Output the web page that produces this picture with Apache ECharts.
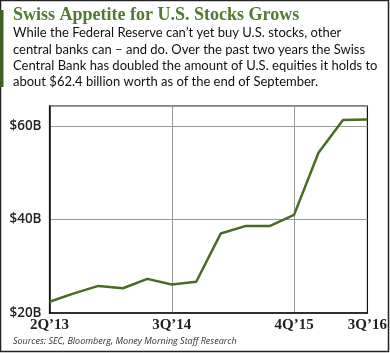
<!DOCTYPE html>
<html>
<head>
<meta charset="utf-8">
<script src="https://cdn.jsdelivr.net/npm/echarts@6/dist/echarts.min.js"></script>
<style>
  html, body { margin: 0; padding: 0; background: #fff; }
  #main { width: 390px; height: 353px; }
</style>
</head>
<body>
<div id="main"></div>
<script>
// quarters, 2Q'13 .. 3Q'16
const quarters = ['2Q’13', '3Q’13', '4Q’13', '1Q’14', '2Q’14', '3Q’14', '4Q’14',
  '1Q’15', '2Q’15', '3Q’15', '4Q’15', '1Q’16', '2Q’16', '3Q’16'];
// US equity holdings, $ billions
const holdings = [22.4, 24.2, 25.8, 25.3, 27.3, 26.1, 26.7, 37.0, 38.6, 38.6, 41.0, 54.3, 61.3, 61.4];
const shownQuarters = [0, 5, 10, 13];
const yTicks = [20, 40, 60];

const titleText = 'Swiss Appetite for U.S. Stocks Grows';
const bodyLines = [
  'While the Federal Reserve can’t yet buy U.S. stocks, other',
  'central banks can – and do. Over the past two years the Swiss',
  'Central Bank has doubled the amount of U.S. equities it holds to',
  'about $62.4 billion worth as of the end of September.'
];
const sourceText = 'Sources: SEC, Bloomberg, Money Morning Staff Research';

const green = '#4a6b26';
const chart = echarts.init(document.getElementById('main'));

const option = {
  animation: false,
  graphic: [
    { type: 'rect', shape: { x: 0.5, y: 0.5, width: 388, height: 351 },
      style: { fill: 'none', stroke: '#222', lineWidth: 1.5 } },
    { type: 'rect', shape: { x: 0, y: 10, width: 3.5, height: 77 }, style: { fill: '#3f5f25' } },
    { type: 'text', left: 13, top: 6,
      style: { text: titleText, fill: '#4f7a30', font: 'bold 18px "Liberation Serif"' } },
    { type: 'text', left: 13, top: 25,
      style: { text: bodyLines.join('\n'), fill: '#111', font: '13px Lato', lineHeight: 16.3 } },
    { type: 'text', left: 13, top: 337,
      style: { text: sourceText, fill: '#333', font: 'italic 9px "Open Sans"' } }
  ],
  grid: {
    left: 49.5, right: 17, top: 106, bottom: 40,
    show: true, borderColor: '#111', borderWidth: 1.2
  },
  xAxis: {
    type: 'category',
    data: quarters,
    boundaryGap: false,
    axisLine: { lineStyle: { color: '#111', width: 1.5 } },
    axisTick: { show: false },
    axisLabel: {
      interval: (i) => shownQuarters.includes(i),
      margin: 5,
      color: '#222',
      fontFamily: 'Liberation Serif',
      fontWeight: 'bold',
      fontSize: 15
    },
    splitLine: {
      show: true,
      interval: (i) => i === 5 || i === 10,
      lineStyle: { color: '#999', width: 1 }
    }
  },
  yAxis: {
    type: 'value',
    min: 20,
    max: 64.3,
    interval: 20,
    axisLine: { show: true, lineStyle: { color: '#111', width: 1.5 } },
    axisTick: { show: false },
    axisLabel: {
      margin: 8,
      color: '#222',
      fontFamily: 'Open Sans',
      fontWeight: 600,
      fontSize: 13.5,
      showMaxLabel: false,
      formatter: (v) => yTicks.includes(v) ? '$' + v + 'B' : ''
    },
    splitLine: { lineStyle: { color: '#999', width: 1 } }
  },
  series: [{
    type: 'line',
    data: holdings,
    symbol: 'none',
    lineStyle: { color: green, width: 2.5 }
  }]
};
chart.setOption(option);
</script>
</body>
</html>
